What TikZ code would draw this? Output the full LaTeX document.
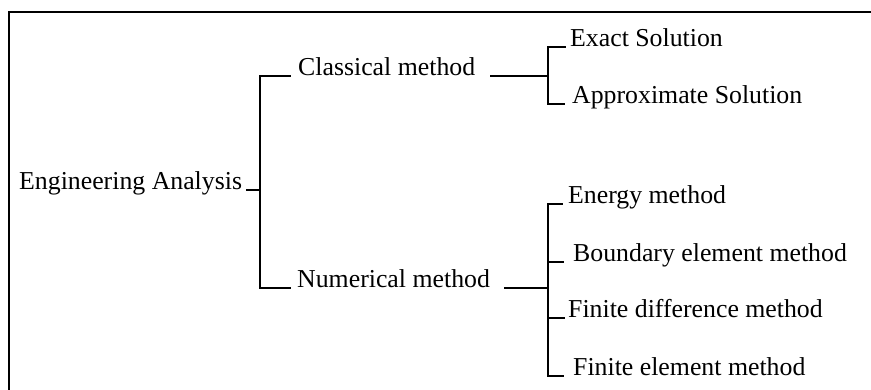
\documentclass[tikz,border=0pt]{standalone}
\usepackage{fontspec}
\setmainfont{Liberation Serif}
\begin{document}
\begin{tikzpicture}[x=1pt,y=-1pt,
  lbl/.style={anchor=base west,inner sep=0pt,font=\fontsize{25.8}{30}\selectfont},
  link/.style={line width=1.3pt,line cap=rect}]
\useasboundingbox (0,0) rectangle (871,390);
\clip (0,0) rectangle (871,390);
% outer frame
\draw[line width=1.8pt] (9,12) rectangle (900,420);

% labels
\node[lbl] (ea)  at (19,190)  {Engineering Analysis};
\node[lbl] (cm)  at (298,76)  {Classical method};
\node[lbl] (nm)  at (297,288) {Numerical method};
\node[lbl] (es)  at (570,47)  {Exact Solution};
\node[lbl] (as)  at (572,104) {Approximate Solution};
\node[lbl] (em)  at (568,204) {Energy method};
\node[lbl] (bem) at (573,262) {Boundary element method};
\node[lbl] (fdm) at (568,318) {Finite difference method};
\node[lbl] (fem) at (573,376) {Finite element method};

% vertical bus positions
\coordinate (b1) at (260,0);
\coordinate (b2) at (548,0);

% first level
\draw[link] ([xshift=4pt]ea.base east) -- (ea.base east -| b1);
\draw[link] ([xshift=-8pt]cm.base west) -- (cm.base west -| b1)
  -- (nm.base west -| b1) -- ([xshift=-7pt]nm.base west);

% classical branch
\draw[link] ([xshift=15pt]cm.base east) -- (cm.base east -| b2);
\draw[link] ([xshift=-5pt]es.base west) -- (es.base west -| b2)
  -- (as.base west -| b2) -- ([xshift=-8pt]as.base west);

% numerical branch
\draw[link] ([xshift=15pt]nm.base east) -- (nm.base east -| b2);
\draw[link] ([xshift=-6pt]em.base west) -- (em.base west -| b2)
  -- (fem.base west -| b2) -- ([xshift=-10pt]fem.base west);
\draw[link] ([xshift=-10pt]bem.base west) -- (bem.base west -| b2);
\draw[link] ([xshift=-4pt]fdm.base west) -- (fdm.base west -| b2);
\end{tikzpicture}
\end{document}
